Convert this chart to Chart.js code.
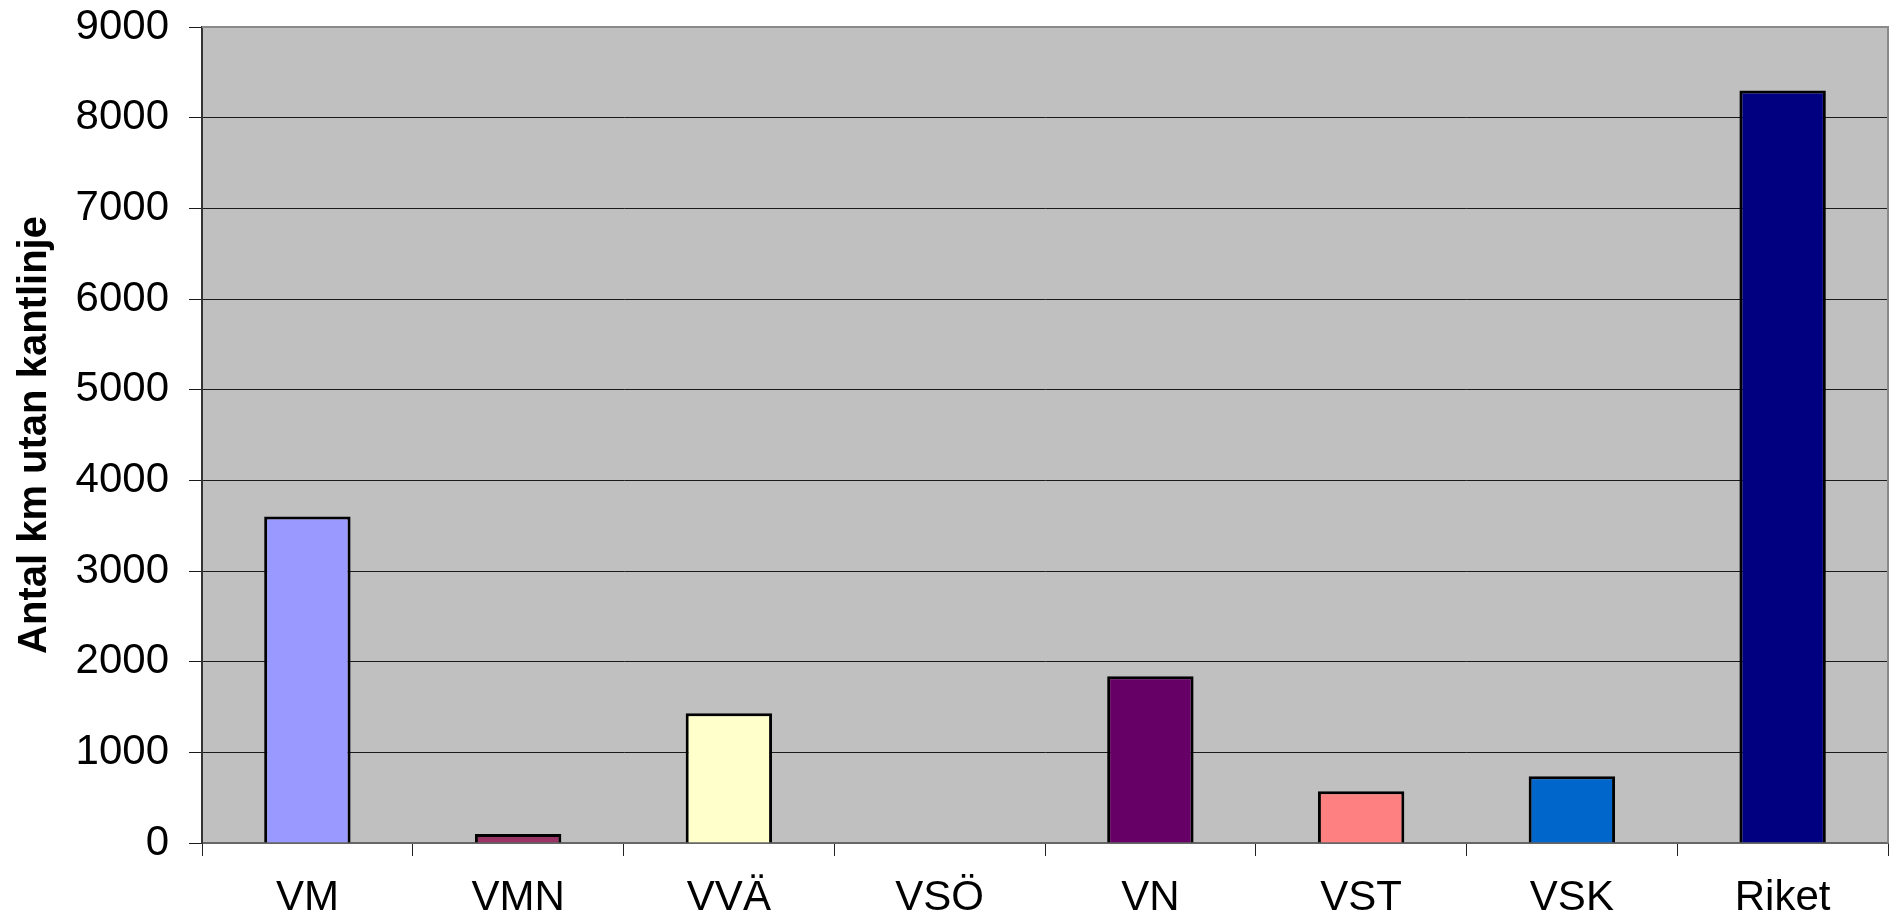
<!DOCTYPE html>
<html>
<head>
<meta charset="utf-8">
<script src="https://cdn.jsdelivr.net/npm/chart.js@4.4.0/dist/chart.umd.min.js"></script>
<style>
  html, body { margin: 0; padding: 0; background: #fff; }
  #wrap { width: 1897px; height: 918px; }
</style>
</head>
<body>
<div id="wrap"><canvas id="chart" width="1897" height="918"></canvas></div>
<script>
const categories = ['VM', 'VMN', 'VVÄ', 'VSÖ', 'VN', 'VST', 'VSK', 'Riket']
const kmUtanKantlinje = [3600, 100, 1430, 0, 1840, 570, 735, 8300]
const barColors = ['#9999FF', '#993366', '#FFFFCC', '#CCFFFF', '#660066', '#FF8080', '#0066CC', '#000080']
const yTicks = [0, 1000, 2000, 3000, 4000, 5000, 6000, 7000, 8000, 9000]

const FONT = '"Liberation Sans", Arial, sans-serif'

// grey plot area with a thin frame, like the old Excel default
const plotArea = {
  id: 'plotArea',
  beforeDraw(chart) {
    const { ctx, chartArea: a } = chart
    ctx.save()
    ctx.fillStyle = '#C0C0C0'
    ctx.fillRect(a.left, a.top, a.right - a.left, a.bottom - a.top)
    ctx.restore()
  },
  afterDraw(chart) {
    const { ctx, chartArea: a } = chart
    ctx.save()
    ctx.strokeStyle = '#8a8a8a'
    ctx.lineWidth = 2
    ctx.beginPath()
    ctx.moveTo(a.left, a.top)
    ctx.lineTo(a.right, a.top)
    ctx.lineTo(a.right, a.bottom)
    ctx.stroke()
    ctx.restore()
  }
}

new Chart(document.getElementById('chart'), {
  type: 'bar',
  data: {
    labels: categories,
    datasets: [{
      data: kmUtanKantlinje,
      backgroundColor: barColors,
      borderColor: '#000',
      borderWidth: 3,
      borderSkipped: 'start',
      barPercentage: 0.41,
      categoryPercentage: 1,
    }],
  },
  plugins: [plotArea],
  options: {
    responsive: false,
    animation: false,
    layout: { padding: { top: 27, right: 9, left: 0, bottom: 0 } },
    plugins: {
      legend:  { display: false },
      tooltip: { enabled: false },
    },
    scales: {
      x: {
        offset: true,
        afterFit: s => { s.height = 75; s.paddingLeft = 0; s.paddingRight = 0 },
        grid: {
          offset: true,
          drawOnChartArea: false,
          drawTicks: true,
          tickLength: 13,
          color: '#222',
          lineWidth: 1,
        },
        border: { color: '#666', width: 2 },
        ticks: { color: '#000', padding: 17, font: { family: FONT, size: 42 } },
      },
      y: {
        min: 0,
        max: 9000,
        afterFit: s => { s.width = 202; s.paddingTop = 0; s.paddingBottom = 0 },
        afterBuildTicks: s => { s.ticks = yTicks.map(v => ({ value: v })) },
        grid: {
          color: '#1a1a1a',
          lineWidth: 1,
          tickLength: 13,
        },
        border: { color: '#333', width: 2 },
        ticks: {
          color: '#000',
          padding: 20,
          font: { family: FONT, size: 42 },
          callback: v => String(v),
        },
        title: {
          display: true,
          text: 'Antal km utan kantlinje',
          color: '#000',
          padding: { top: 11, bottom: 0 },
          font: { family: FONT, size: 40, weight: 'bold' },
        },
      },
    },
  },
})
</script>
</body>
</html>
